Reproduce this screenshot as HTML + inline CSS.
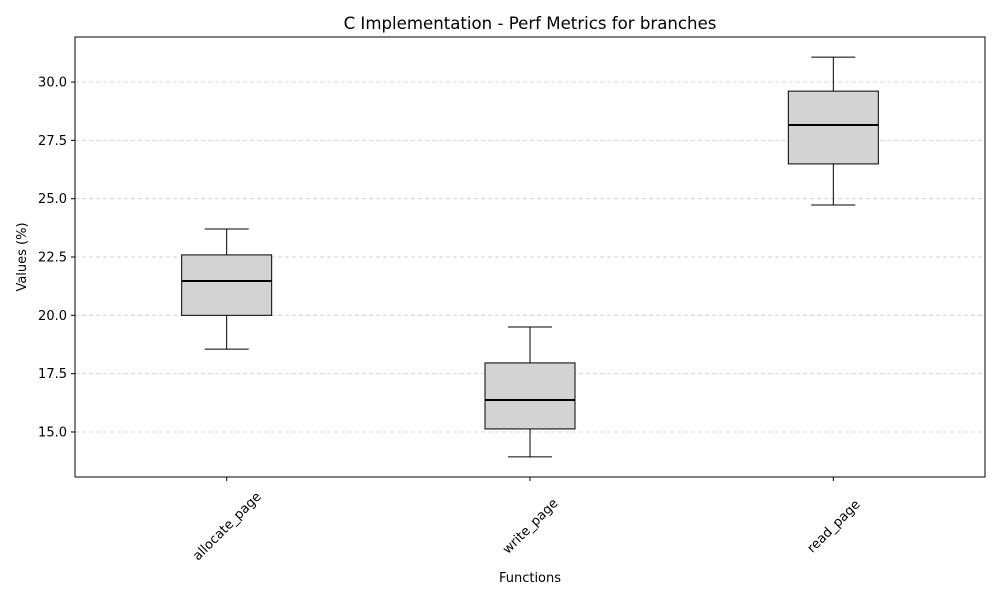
<!DOCTYPE html>
<html><head><meta charset="utf-8"><style>
body{margin:0;background:#fff;font-family:"DejaVu Sans","Liberation Sans",sans-serif}
svg text{font-family:"DejaVu Sans","Liberation Sans",sans-serif;fill:#000}
</style></head><body>
<svg id="chart" width="1000" height="600" xmlns="http://www.w3.org/2000/svg">
<rect width="1000" height="600" fill="#fff"/>
<text x="530" y="29" font-size="16.6" text-anchor="middle">C Implementation - Perf Metrics for branches</text>
<text x="530" y="582" font-size="13" text-anchor="middle">Functions</text>
<text transform="translate(26,257) rotate(-90)" font-size="13" text-anchor="middle">Values (%)</text>
<g id="grid"></g><g id="boxes"></g><g id="axes"></g>
</svg>
<script>
const categories = ["allocate_page","write_page","read_page"];
const whiskerLow = [18.55,13.93,24.73];
const q1 = [20.0,15.13,26.49];
const median = [21.47,16.37,28.16];
const q3 = [22.59,17.96,29.61];
const whiskerHigh = [23.7,19.5,31.07];
const yTicks = [15.0,17.5,20.0,22.5,25.0,27.5,30.0];

const L=75,R=985,T=37,B=477,yMin=13.07,yMax=31.93;
const y=v=>B-(v-yMin)/(yMax-yMin)*(B-T);
const x=i=>L+(R-L)*(i+0.5)/categories.length;
const NS="http://www.w3.org/2000/svg";
function mk(parent,tag,attrs){const e=document.createElementNS(NS,tag);for(const k in attrs)e.setAttribute(k,attrs[k]);parent.appendChild(e);return e;}
const grid=document.getElementById('grid'),boxes=document.getElementById('boxes'),axes=document.getElementById('axes');

yTicks.forEach(t=>{
  const g=mk(grid,'line',{x1:L,x2:R,y1:y(t),y2:y(t),stroke:'#c8c8c8','stroke-dasharray':'4,3','stroke-width':0.8});
  
  
  const tk=mk(axes,'line',{x1:L-4,x2:L,y1:y(t),y2:y(t),stroke:'#000'});
  
  
  const lb=mk(axes,'text',{x:L-8,y:y(t)+4.5,'font-size':13,'text-anchor':'end'});
  lb.textContent=t.toFixed(1);
  
  
});

categories.forEach((c,i)=>{
  const cx=x(i),hw=45,cw=22;
  const g=mk(boxes,'g',{});
  
  
  mk(g,'line',{x1:cx,x2:cx,y1:y(whiskerLow[i]),y2:y(q1[i]),stroke:'#000'});
  mk(g,'line',{x1:cx,x2:cx,y1:y(q3[i]),y2:y(whiskerHigh[i]),stroke:'#000'});
  mk(g,'line',{x1:cx-cw,x2:cx+cw,y1:y(whiskerLow[i]),y2:y(whiskerLow[i]),stroke:'#000'});
  mk(g,'line',{x1:cx-cw,x2:cx+cw,y1:y(whiskerHigh[i]),y2:y(whiskerHigh[i]),stroke:'#000'});
  mk(g,'rect',{x:cx-hw,y:y(q3[i]),width:2*hw,height:y(q1[i])-y(q3[i]),fill:'#d3d3d3',stroke:'#000'});
  mk(g,'line',{x1:cx-hw,x2:cx+hw,y1:y(median[i]),y2:y(median[i]),stroke:'#000','stroke-width':2});
  const tk=mk(axes,'line',{x1:cx,x2:cx,y1:B,y2:B+4,stroke:'#000'});
  
  
  const lb=mk(axes,'text',{transform:`translate(${cx},${B+49}) rotate(-45)`,'font-size':13,'text-anchor':'middle',dy:'0.35em'});
  lb.textContent=c;
  
  
});
const fr=mk(axes,'rect',{x:L,y:T,width:R-L,height:B-T,fill:'none',stroke:'#000'});


</script>
</body></html>
